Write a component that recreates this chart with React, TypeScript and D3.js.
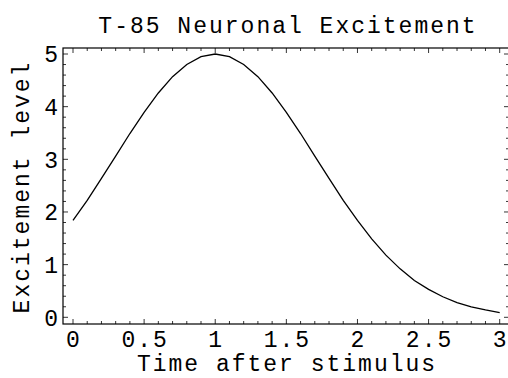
import React from "react";
import * as d3 from "d3";

// curve
const times = [0, 0.1, 0.2, 0.3, 0.4, 0.5, 0.6, 0.7, 0.8, 0.9, 1.0, 1.1, 1.2, 1.3, 1.4, 1.5, 1.6, 1.7, 1.8, 1.9, 2.0, 2.1, 2.2, 2.3, 2.4, 2.5, 2.6, 2.7, 2.8, 2.9, 3.0];
const levels = [1.84, 2.22, 2.64, 3.06, 3.49, 3.89, 4.26, 4.57, 4.8, 4.95, 5.0, 4.95, 4.8, 4.57, 4.26, 3.89, 3.49, 3.06, 2.64, 2.22, 1.84, 1.49, 1.18, 0.92, 0.7, 0.53, 0.39, 0.28, 0.2, 0.14, 0.09];

const xTicks = [0, 0.5, 1, 1.5, 2, 2.5, 3];
const xTickLabels = ["0", "0.5", "1", "1.5", "2", "2.5", "3"];
const yTicks = [0, 1, 2, 3, 4, 5];
const xMinor = d3.range(0, 31).map((d) => d / 10);
const yMinor = d3.range(0, 26).map((d) => d / 5);

const title = "T-85 Neuronal Excitement";
const xTitle = "Time after stimulus";
const yTitle = "Excitement level";

const W = 508;
const H = 378;
const frame = { left: 63, right: 509, top: 48, bottom: 324 };
const font = "'Courier New', 'Liberation Mono', monospace";
const fs = 23;
const ls = 2; // courier-ish wide spacing

export default function App() {
  const x = d3.scaleLinear().domain([0, 3]).range([73, 499.7]);
  const y = d3.scaleLinear().domain([0, 5]).range([317.3, 54]);

  const data = times.map((t, i) => ({ t, v: levels[i] }));
  const line = d3
    .line<any>()
    .x((d) => x(d.t))
    .y((d) => y(d.v));

  const isMajorX = (t: number) => xTicks.some((m) => Math.abs(m - t) < 1e-6);
  const isMajorY = (v: number) => yTicks.some((m) => Math.abs(m - v) < 1e-6);

  const txt = { fontFamily: font, fontSize: fs, letterSpacing: ls, fill: "#000" };

  return (
    <svg width={W} height={H} style={{ position: "absolute", left: 0, top: 0, background: "#fff" }}>
      <rect x={0} y={0} width={W} height={H} fill="#fff" />
      {/* frame */}
      <rect
        x={frame.left}
        y={frame.top}
        width={frame.right - frame.left}
        height={frame.bottom - frame.top}
        fill="none"
        stroke="#000"
        strokeWidth={1.2}
      />
      {/* x ticks, bottom and top */}
      {xMinor.map((t, i) => {
        const len = isMajorX(t) ? 5 : 3;
        return (
          <g key={"xt" + i} stroke="#000" strokeWidth={0.8}>
            <line x1={x(t)} x2={x(t)} y1={frame.bottom} y2={frame.bottom - len} />
            <line x1={x(t)} x2={x(t)} y1={frame.top} y2={frame.top + len} />
          </g>
        );
      })}
      {/* y ticks, left and right */}
      {yMinor.map((v, i) => {
        const len = isMajorY(v) ? 5 : 3;
        return (
          <g key={"yt" + i} stroke="#000" strokeWidth={0.8}>
            <line x1={frame.left} x2={frame.left + len} y1={y(v)} y2={y(v)} />
            <line x1={frame.right} x2={frame.right - len} y1={y(v)} y2={y(v)} />
          </g>
        );
      })}
      {/* tick labels */}
      {xTicks.map((t, i) => (
        <text key={"xl" + i} x={x(t) + ls / 2} y={347} textAnchor="middle" {...txt}>
          {xTickLabels[i]}
        </text>
      ))}
      {yTicks.map((v, i) => (
        <text key={"yl" + i} x={58 + ls} y={y(v)} dy="0.36em" textAnchor="end" {...txt}>
          {String(v)}
        </text>
      ))}
      {/* curve */}
      <path d={line(data) || ""} fill="none" stroke="#000" strokeWidth={1.3} />
      {/* titles */}
      <text x={288} y={33} textAnchor="middle" {...txt}>
        {title}
      </text>
      <text x={287} y={371} textAnchor="middle" {...txt}>
        {xTitle}
      </text>
      <text transform={`translate(29, 187) rotate(-90)`} textAnchor="middle" {...txt}>
        {yTitle}
      </text>
    </svg>
  );
}
